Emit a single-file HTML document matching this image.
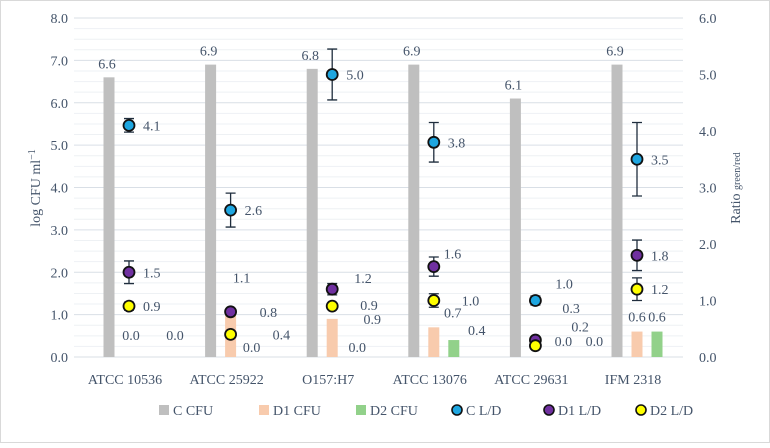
<!DOCTYPE html>
<html><head><meta charset="utf-8"><style>
body{margin:0;background:#fff}
svg{font-family:"Liberation Serif",serif;fill:#44546a}
</style></head><body>
<svg id="c" width="770" height="443">
<rect x="0.5" y="0.5" width="769" height="442" fill="#fff" stroke="#d9d9d9"/>
<g id="grid"></g><g id="bars"></g><g id="marks"></g><g id="labels"></g>
<text x="40" y="188" transform="rotate(-90 40 188)" text-anchor="middle" font-size="14">log CFU ml<tspan font-size="10" dy="-5">−1</tspan></text>
<text x="740" y="188" transform="rotate(-90 740 188)" text-anchor="middle" font-size="14">Ratio <tspan font-size="10">green/red</tspan></text>
<g id="legend"></g>
</svg>
<script>
const categories=["ATCC 10536","ATCC 25922","O157:H7","ATCC 13076","ATCC 29631","IFM 2318"];
const cCFU=[6.6,6.9,6.8,6.9,6.1,6.9];
const d1CFU=[0,1.0,0.9,0.7,0,0.6];
const d2CFU=[0,0,0,0.4,0,0.6];
const cLD=[4.1,2.6,5.0,3.8,1.0,3.5];
const d1LD=[1.5,0.8,1.2,1.6,0.3,1.8];
const d2LD=[0.9,0.4,0.9,1.0,0.2,1.2];
const cErr=[0.12,0.3,0.45,0.35,0.08,0.65];
const d1Err=[0.2,0.04,0.1,0.17,0.03,0.27];
const d2Err=[0.07,0.03,0.03,0.12,0.03,0.2];
const d1Lab=["0.0","1.1","0.9","0.7","0.0","0.6"];
const d2Lab=["0.0","0.0","0.0","0.4","0.0","0.6"];
const leftTicks=["0.0","1.0","2.0","3.0","4.0","5.0","6.0","7.0","8.0"];
const rightTicks=["0.0","1.0","2.0","3.0","4.0","5.0","6.0"];
// label layout offsets (not data)
const d1LabPos=[[2,-17],[11,-32],[40,5],[19,-10],[28,-11],[0,-10]];
const d2LabPos=[[26,-17],[1,-5],[5,-5],[23,-5],[39,-11],[0,-10]];
const cLabOff=[[14,5],[14,5],[14,5],[14,5],[20,-12],[14,5]];
const d1LabOff=[[14,5],[29,5],[22,-6],[10,-8],[27,-27],[14,5]];
const d2LabOff=[[14,5],[42,5],[28,4],[28,5],[36,-14],[14,5]];
const NS="http://www.w3.org/2000/svg";
const y0=357,yTop=18,xL=74,xR=683;
const yL=v=>y0-(y0-yTop)*v/8;
const yR=v=>y0-(y0-yTop)*v/6;
const xc=i=>129+i*101.6;
function mk(p,tag,a){const e=document.createElementNS(NS,tag);for(const k in a)e.setAttribute(k,a[k]);document.getElementById(p).appendChild(e);return e;}
for(let v=0;v<=8.001;v+=0.25){const l=mk('grid','line',{x1:xL,x2:xR,y1:yL(v),y2:yL(v),stroke:Math.abs(v-Math.round(v))<0.01?'#d9dfe6':'#eef1f4','stroke-width':1});

}
leftTicks.forEach(t=>{const e=mk('labels','text',{x:68,y:yL(+t)+5,'text-anchor':'end','font-size':14});e.textContent=t;

});
rightTicks.forEach(t=>{const e=mk('labels','text',{x:699,y:yR(+t)+5,'font-size':14});e.textContent=t;

});
categories.forEach((c,i)=>{const e=mk('labels','text',{x:xc(i)-4,y:384,'text-anchor':'middle','font-size':14});e.textContent=c;

});
const bw=11;
function bar(vals,off,col,name){vals.forEach((v,i)=>{const y=yL(v);const r=mk('bars','rect',{x:xc(i)+off-bw/2,y:y,width:bw,height:y0-y,fill:col});

});}
bar(cCFU,-20,'#bfbfbf','bar-c-cfu');
bar(d1CFU,0,'#f8cbad','bar-d1-cfu');
bar(d2CFU,20,'#92d18a','bar-d2-cfu');
cCFU.forEach((v,i)=>{const t=mk('labels','text',{x:xc(i)-22,y:yL(v)-9,'text-anchor':'middle','font-size':14});t.textContent=v.toFixed(1);

});
function barLab(labs,pos,off,vals,name){labs.forEach((s,i)=>{const t=mk('labels','text',{x:xc(i)+off+pos[i][0],y:yL(vals[i])+pos[i][1],'text-anchor':'middle','font-size':14});t.textContent=s;

});}
barLab(d1Lab,d1LabPos,0,d1CFU,'d1-cfu-label');
barLab(d2Lab,d2LabPos,20,d2CFU,'d2-cfu-label');
function pts(vals,errs,col,name,offs){vals.forEach((v,i)=>{const x=xc(i),y=yR(v);
if(errs[i]>0.05){const a=yR(v+errs[i]),b=yR(v-errs[i]);
const l=mk('marks','path',{d:`M${x},${a}V${b}M${x-5},${a}H${x+5}M${x-5},${b}H${x+5}`,stroke:'#1f2d3d','stroke-width':1.3,fill:'none'});

}
const c=mk('marks','circle',{cx:x,cy:y,r:5.5,fill:col,stroke:'#111','stroke-width':1.8});


const t=mk('labels','text',{x:x+offs[i][0],y:y+offs[i][1],'font-size':14});t.textContent=v.toFixed(1);

});}
pts(cLD,cErr,'#1ea6e0','c-ld',cLabOff);
pts(d1LD,d1Err,'#7030a0','d1-ld',d1LabOff);
pts(d2LD,d2Err,'#ffff00','d2-ld',d2LabOff);
const items=[["C CFU","#bfbfbf","sq"],["D1 CFU","#f8cbad","sq"],["D2 CFU","#92d18a","sq"],["C L/D","#1ea6e0","c"],["D1 L/D","#7030a0","c"],["D2 L/D","#ffff00","c"]];
const lx=[164,264,361,457,549,641];
items.forEach((it,i)=>{const x=lx[i];
const m=it[2]=="sq"?mk('legend','rect',{x:x-5,y:405,width:10,height:10,fill:it[1]}):mk('legend','circle',{cx:x,cy:410,r:5,fill:it[1],stroke:'#111','stroke-width':1.6});


const t=mk('legend','text',{x:x+9,y:415,'font-size':14});t.textContent=it[0];

});
</script>
</body></html>
